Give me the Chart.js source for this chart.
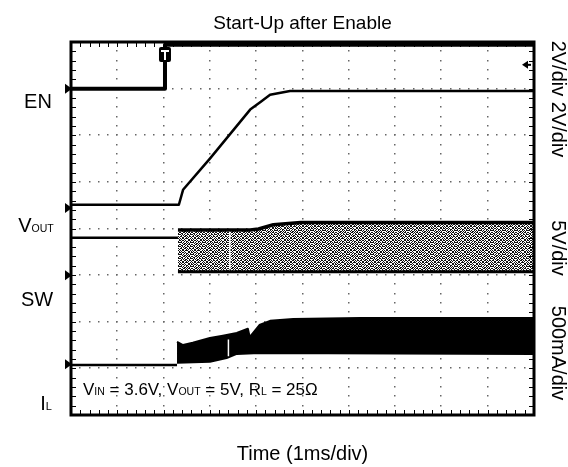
<!DOCTYPE html>
<html>
<head>
<meta charset="utf-8">
<title>Start-Up after Enable</title>
<script src="https://cdn.jsdelivr.net/npm/chart.js@4/dist/chart.umd.min.js"></script>
<style>
  html, body { margin: 0; padding: 0; background: #fff; }
</style>
</head>
<body>
<canvas id="scope" width="568" height="467"></canvas>
<script>
// x = time in divisions (1 ms/div), y = screen divisions (0 = bottom of graticule)
var enTime = [0, 2.03, 2.03, 10];
var enLevel = [7.0, 7.0, 7.94, 7.94];

var voutTime = [0, 2.33, 2.42, 3.0, 3.87, 4.1, 4.3, 4.73, 10];
var voutLevel = [4.51, 4.51, 4.83, 5.5, 6.55, 6.72, 6.87, 6.95, 6.95];

var swBaseTime = [0, 2.31];
var swBaseLevel = [3.80, 3.80];
var swTopTime = [2.31, 3.87, 4.05, 4.37, 4.96, 10];
var swTopLevel = [3.97, 3.97, 3.99, 4.08, 4.13, 4.13];
var swBottomTime = [2.31, 10];
var swBottomLevel = [3.07, 3.07];

var ilBaseTime = [0, 2.29];
var ilBaseLevel = [1.07, 1.07];
var ilTopTime = [2.29, 2.42, 2.63, 3.0, 3.28, 3.58, 3.82, 3.86, 4.07, 4.3, 4.8, 6.24, 10];
var ilTopLevel = [1.57, 1.50, 1.55, 1.65, 1.70, 1.76, 1.85, 1.67, 1.93, 2.02, 2.06, 2.08, 2.08];
var ilBottomTime = [2.29, 3.0, 3.36, 3.58, 4.07, 10];
var ilBottomLevel = [1.12, 1.14, 1.22, 1.31, 1.33, 1.31];

// dropouts seen in the switching bands
var swGapTime = [3.43, 3.43];
var swGapLevel = [3.12, 3.93];
var ilGapTime = [3.40, 3.40];
var ilGapLevel = [1.26, 1.62];

// channel ground markers (EN, VOUT, SW, IL) and trigger
var groundLevels = [7.0, 4.44, 3.0, 1.09];
var triggerTime = 2.03;
var triggerLevel = 7.51;
var scaleLabels = ["2V/div 2V/div", "5V/div", "500mA/div"];

function pts(t, v) {
  return t.map(function(x, i) { return { x: x, y: v[i] }; });
}

// speckle pattern for the switch node band
function speckle() {
  var rows = ["101101001101", "010010110010", "110100101011", "001011010100",
              "100110101101", "011001010010", "101010011011", "010101100100",
              "110011010110", "001100101001", "101101110010", "010010001101"];
  var c = document.createElement("canvas");
  c.width = 12; c.height = 12;
  var g = c.getContext("2d");
  g.fillStyle = "#fff";
  g.fillRect(0, 0, 12, 12);
  g.fillStyle = "#111";
  rows.forEach(function(r, j) {
    for (var i = 0; i < 12; i++) if (r[i] === "1") g.fillRect(i, j, 1, 1);
  });
  return document.getElementById("scope").getContext("2d").createPattern(c, "repeat");
}

function richText(ctx, parts, x, y, align) {
  var w = 0;
  parts.forEach(function(p) {
    ctx.font = p[1] + "px 'Liberation Sans', Arial, sans-serif";
    w += ctx.measureText(p[0]).width;
  });
  var cx = align === "center" ? x - w / 2 : x;
  ctx.textAlign = "left";
  ctx.textBaseline = "alphabetic";
  parts.forEach(function(p) {
    ctx.font = p[1] + "px 'Liberation Sans', Arial, sans-serif";
    ctx.fillText(p[0], cx, y);
    cx += ctx.measureText(p[0]).width;
  });
}

var scopeFace = {
  id: "scopeFace",
  beforeDatasetsDraw: function(chart) {
    var ctx = chart.ctx, sx = chart.scales.x, sy = chart.scales.y;
    ctx.save();
    ctx.fillStyle = "#666";
    for (var i = 1; i < 10; i++) {
      for (var j = 0; j <= 40; j++) {
        ctx.fillRect(Math.round(sx.getPixelForValue(i)) - 1, Math.round(sy.getPixelForValue(j / 5)) - 1, 1.5, 1.5);
      }
    }
    for (var j2 = 1; j2 < 8; j2++) {
      for (var k = 0; k <= 50; k++) {
        ctx.fillRect(Math.round(sx.getPixelForValue(k / 5)) - 1, Math.round(sy.getPixelForValue(j2)) - 1, 1.5, 1.5);
      }
    }
    ctx.restore();
  },
  afterDatasetsDraw: function(chart) {
    var ctx = chart.ctx, a = chart.chartArea, sx = chart.scales.x, sy = chart.scales.y;
    ctx.save();
    // minor ticks on the frame
    ctx.strokeStyle = "#000";
    ctx.lineWidth = 1;
    ctx.beginPath();
    for (var k = 1; k < 50; k++) {
      var px = Math.round(sx.getPixelForValue(k / 5)) + 0.5;
      ctx.moveTo(px, a.top); ctx.lineTo(px, a.top + 5);
      ctx.moveTo(px, a.bottom); ctx.lineTo(px, a.bottom - 5);
    }
    for (var j = 1; j < 40; j++) {
      var py = Math.round(sy.getPixelForValue(j / 5)) + 0.5;
      ctx.moveTo(a.left, py); ctx.lineTo(a.left + 5, py);
      ctx.moveTo(a.right, py); ctx.lineTo(a.right - 5, py);
    }
    ctx.stroke();
    // frame
    ctx.lineWidth = 3;
    ctx.strokeRect(a.left, a.top, a.right - a.left, a.bottom - a.top);
    // ground markers
    ctx.fillStyle = "#000";
    groundLevels.forEach(function(g) {
      var gy = sy.getPixelForValue(g);
      ctx.beginPath();
      ctx.moveTo(a.left - 6, gy - 5);
      ctx.lineTo(a.left + 1, gy);
      ctx.lineTo(a.left - 6, gy + 5);
      ctx.closePath();
      ctx.fill();
    });
    // trigger level arrow
    var ty = sy.getPixelForValue(triggerLevel);
    ctx.beginPath();
    ctx.moveTo(a.right - 12, ty);
    ctx.lineTo(a.right - 6, ty - 4);
    ctx.lineTo(a.right - 6, ty + 4);
    ctx.closePath();
    ctx.fill();
    ctx.fillRect(a.right - 7, ty - 1, 4, 2);
    // trigger point marker
    var tx = sx.getPixelForValue(triggerTime);
    var tTop = a.top + 5;
    ctx.beginPath();
    ctx.roundRect(tx - 6, tTop, 12, 15, 2);
    ctx.fill();
    ctx.fillStyle = "#fff";
    ctx.fillRect(tx - 4, tTop + 3, 8, 2);
    ctx.fillRect(tx - 1, tTop + 3, 2, 10);
    ctx.restore();
  },
  afterDraw: function(chart) {
    var ctx = chart.ctx, a = chart.chartArea;
    ctx.save();
    ctx.fillStyle = "#000";
    var cx = (a.left + a.right) / 2;
    richText(ctx, [["Start-Up after Enable", 19]], cx, 29, "center");
    richText(ctx, [["Time (1ms/div)", 20]], cx, 460, "center");
    // channel names
    richText(ctx, [["EN", 20]], 38, 108, "center");
    richText(ctx, [["V", 20], ["OUT", 10.5]], 36, 232, "center");
    richText(ctx, [["SW", 20]], 37, 306, "center");
    richText(ctx, [["I", 20], ["L", 11]], 46, 410, "center");
    // test conditions
    richText(ctx, [["V", 17], ["IN", 10.5], [" = 3.6V, V", 17], ["OUT", 10.5],
                   [" = 5V, R", 17], ["L", 10.5], [" = 25\u03A9", 17]], 83, 395, "left");
    // vertical scale labels
    var ys = [99, 248, 353];
    ctx.font = "20px 'Liberation Sans', Arial, sans-serif";
    ctx.textAlign = "center";
    ctx.textBaseline = "middle";
    scaleLabels.forEach(function(s, i) {
      ctx.save();
      ctx.translate(558, ys[i]);
      ctx.rotate(Math.PI / 2);
      ctx.fillText(s, 0, 0);
      ctx.restore();
    });
    ctx.restore();
  }
};

function trace(data, width, extra) {
  var d = {
    data: data,
    borderColor: "#000",
    borderWidth: width,
    pointRadius: 0,
    tension: 0,
    fill: false,
    borderJoinStyle: "round"
  };
  for (var k in extra) d[k] = extra[k];
  return d;
}

var chart = new Chart(document.getElementById("scope"), {
  type: "line",
  data: {
    datasets: [
      trace(pts(swGapTime, swGapLevel), 1.5, { label: "SW dropout", borderColor: "#fff" }),
      trace(pts(ilGapTime, ilGapLevel), 1.5, { label: "IL dropout", borderColor: "#fff" }),
      trace(pts(enTime, enLevel), 4, { label: "EN" }),
      trace(pts(voutTime, voutLevel), 2.5, { label: "VOUT" }),
      trace(pts(swBaseTime, swBaseLevel), 2.5, { label: "SW" }),
      trace(pts(swBottomTime, swBottomLevel), 3, { label: "SW low" }),
      trace(pts(swTopTime, swTopLevel), 3.5, { label: "SW high", fill: "-1", backgroundColor: speckle() }),
      trace(pts(ilBaseTime, ilBaseLevel), 2.5, { label: "IL" }),
      trace(pts(ilBottomTime, ilBottomLevel), 2, { label: "IL valley" }),
      trace(pts(ilTopTime, ilTopLevel), 2, { label: "IL peak", fill: "-1", backgroundColor: "#000" })
    ]
  },
  options: {
    responsive: false,
    animation: false,
    layout: { padding: { left: 71, right: 34, top: 42, bottom: 52 } },
    plugins: { legend: { display: false }, tooltip: { enabled: false }, title: { display: false } },
    scales: {
      x: { type: "linear", min: 0, max: 10, display: false },
      y: { type: "linear", min: 0, max: 8, display: false }
    }
  },
  plugins: [scopeFace]
});
</script>
</body>
</html>
